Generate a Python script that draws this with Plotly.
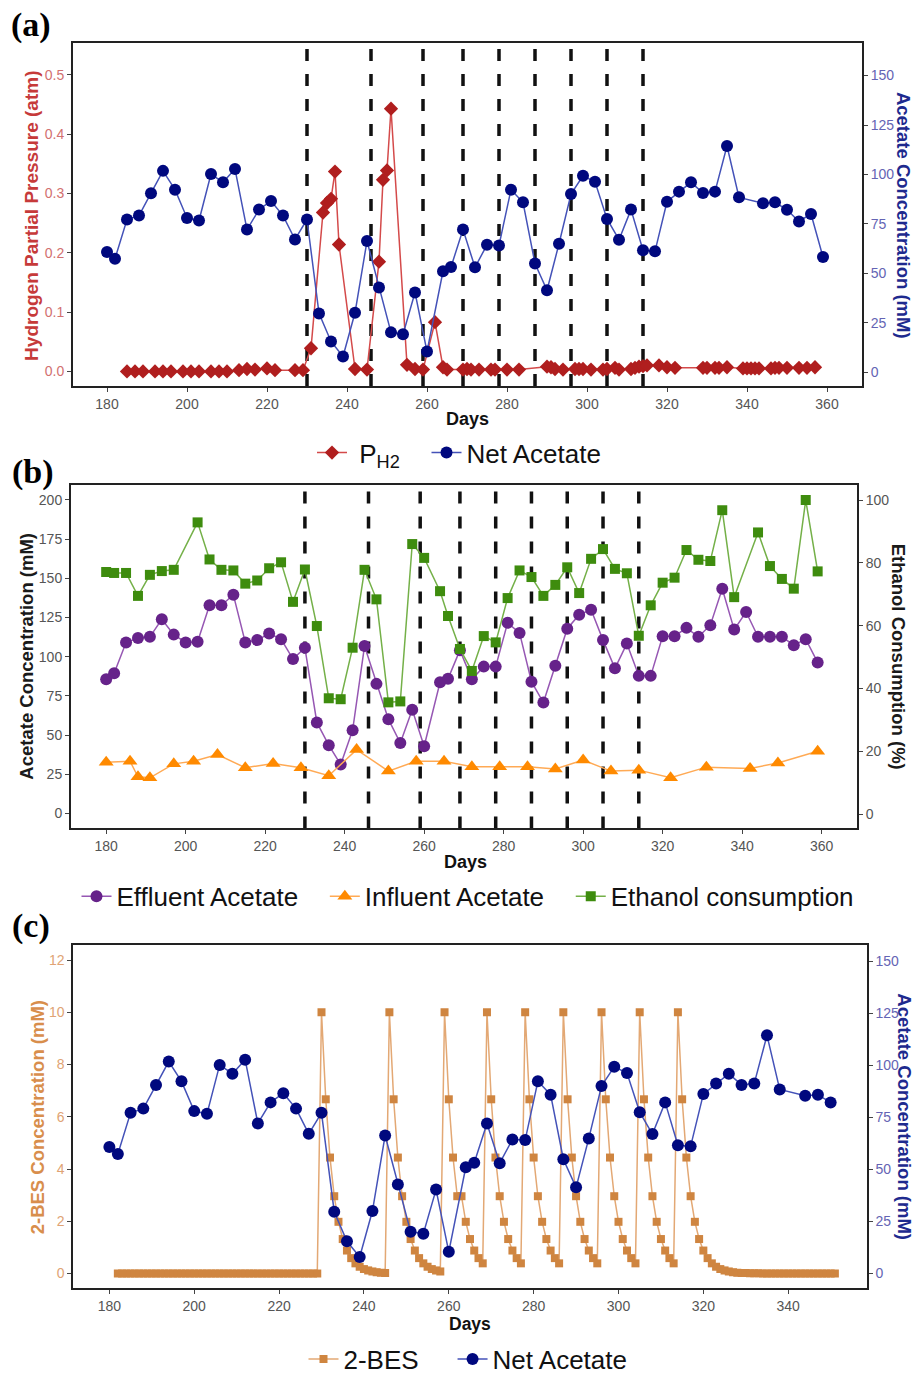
import plotly.graph_objects as go

W, H = 919, 1383

# ---------------- DATA ----------------
dose_days = [230, 246, 259, 269, 278, 287, 296, 305, 314]

ph2_days = [185, 187, 189, 192, 194, 196, 199, 201, 203, 206, 208, 210, 213, 215, 217, 220, 222, 227, 229,
            231, 234, 235, 236, 237, 238, 242, 245, 248, 249, 250, 251, 255, 257, 259, 262, 264, 265,
            269, 270, 271, 273, 276, 277, 280, 283, 290, 291, 292, 294, 297, 298, 299, 301, 304, 305,
            307, 308, 311, 312, 313, 314, 315, 318, 320, 322, 329, 330, 332, 333, 335, 339, 340, 341,
            342, 343, 346, 347, 348, 350, 353, 355, 357]
ph2_vals = [0.0, 0.0, 0.0, 0.0, 0.0, 0.0, 0.0, 0.0, 0.0, 0.0, 0.0, 0.0, 0.002, 0.004, 0.003, 0.005, 0.002, 0.002, 0.002,
            0.039, 0.268, 0.284, 0.291, 0.337, 0.214, 0.004, 0.003, 0.185, 0.323, 0.339, 0.443, 0.011, 0.004, 0.003, 0.083, 0.007, 0.003,
            0.003, 0.004, 0.003, 0.003, 0.003, 0.003, 0.003, 0.003, 0.008, 0.007, 0.004, 0.003, 0.004, 0.004, 0.004, 0.003, 0.003, 0.004,
            0.006, 0.003, 0.004, 0.006, 0.008, 0.009, 0.010, 0.010, 0.007, 0.006, 0.006, 0.006, 0.006, 0.006, 0.007, 0.005, 0.005, 0.005,
            0.005, 0.005, 0.005, 0.006, 0.006, 0.006, 0.006, 0.006, 0.007]

net_days = [180, 182, 185, 188, 191, 194, 197, 200, 203, 206, 209, 212, 215, 218, 221, 224, 227, 230, 233, 236,
            239, 242, 245, 248, 251, 254, 257, 260, 264, 266, 269, 272, 275, 278, 281, 284, 287, 290, 293, 296,
            299, 302, 305, 308, 311, 314, 317, 320, 323, 326, 329, 332, 335, 338, 344, 347, 350, 353, 356, 359]
net_vals = [60.8, 57.4, 77.2, 79.2, 90.5, 101.8, 92.3, 78.0, 76.7, 100.2, 96.0, 102.7, 72.1, 82.2, 86.6, 79.2, 67.1, 77.2, 29.7, 15.5,
            7.9, 30.0, 66.3, 42.8, 20.1, 19.1, 40.3, 10.4, 51.0, 53.2, 72.1, 53.0, 64.4, 64.1, 92.3, 85.9, 54.9, 41.4, 64.9, 90.1,
            99.3, 96.3, 77.5, 67.0, 82.2, 61.6, 61.1, 86.2, 91.3, 96.0, 90.6, 91.3, 114.4, 88.4, 85.4, 85.9, 82.1, 76.2, 80.0, 58.2]

eff_days = [180, 182, 185, 188, 191, 194, 197, 200, 203, 206, 209, 212, 215, 218, 221, 224, 227, 230, 233, 236,
            239, 242, 245, 248, 251, 254, 257, 260, 264, 266, 269, 272, 275, 278, 281, 284, 287, 290, 293, 296,
            299, 302, 305, 308, 311, 314, 317, 320, 323, 326, 329, 332, 335, 338, 341, 344, 347, 350, 353, 356, 359]
eff_vals = [85.6, 89.4, 109.1, 111.9, 112.7, 123.9, 114.1, 109.1, 109.5, 132.8, 132.8, 139.5, 109.1, 110.6, 114.8, 111.2, 98.5, 105.7, 58.1, 43.6,
            31.3, 53.1, 106.8, 82.7, 60.2, 45.0, 66.2, 42.9, 83.7, 85.9, 104.2, 85.6, 93.7, 93.7, 121.6, 115.2, 84.1, 70.8, 94.3, 117.9,
            126.8, 130.0, 110.6, 92.6, 108.4, 87.8, 87.8, 113.1, 113.1, 118.4, 112.7, 120.1, 143.3, 117.3, 128.5, 112.7, 112.7, 112.7, 107.4, 111.2, 96.4]

inf_days = [180, 186, 188, 191, 197, 202, 208, 215, 222, 229, 236, 243, 251, 258, 265, 272, 279, 286, 293, 300,
            307, 314, 322, 331, 342, 349, 359]
inf_vals = [32.8, 33.4, 23.5, 22.8, 31.7, 33.4, 37.7, 29.2, 32.0, 29.2, 24.1, 40.8, 27.1, 33.4, 33.4, 29.8, 29.8, 29.8, 28.5, 34.1,
            27.1, 27.7, 22.8, 29.6, 28.8, 32.3, 39.8]

eth_days = [180, 182, 185, 188, 191, 194, 197, 203, 206, 209, 212, 215, 218, 221, 224, 227, 230, 233, 236, 239,
            242, 245, 248, 251, 254, 257, 260, 264, 266, 269, 272, 275, 278, 281, 284, 287, 290, 293, 296, 299,
            302, 305, 308, 311, 314, 317, 320, 323, 326, 329, 332, 335, 338, 344, 347, 350, 353, 356, 359]
eth_vals = [77.1, 76.8, 76.8, 69.5, 76.2, 77.4, 77.8, 92.9, 81.1, 77.8, 77.6, 73.4, 74.4, 78.3, 80.2, 67.6, 77.9, 59.9, 36.9, 36.6,
            53.0, 77.8, 68.4, 35.6, 35.9, 86.0, 81.6, 71.0, 63.1, 52.6, 45.6, 56.7, 54.7, 68.8, 77.6, 75.5, 69.5, 73.0, 78.6, 70.4,
            81.3, 84.4, 78.1, 76.7, 56.8, 66.5, 73.7, 75.3, 84.1, 81.0, 80.6, 96.8, 69.1, 89.7, 79.0, 74.9, 71.8, 100.0, 77.3]

# 2-BES: one reading per day from day 182 to day 351
bes_days = list(range(182, 352))
bes_vals = ([0] * 48 +
            [10, 6.67, 4.44, 2.96, 1.98, 1.32, 0.88, 0.59, 0.39, 0.26, 0.17, 0.12, 0.08, 0.05, 0.03, 0.02] +
            [10, 6.67, 4.44, 2.96, 1.98, 1.32, 0.88, 0.59, 0.39, 0.26, 0.17, 0.12, 0.08] +
            [10, 6.67, 4.44, 2.96, 2.96, 1.98, 1.32, 0.88, 0.59, 0.39] +
            [10, 6.67, 4.44, 2.96, 1.98, 1.32, 0.88, 0.59, 0.39] +
            [10, 6.67, 4.44, 2.96, 1.98, 1.32, 0.88, 0.59, 0.39] +
            [10, 6.67, 4.44, 2.96, 1.98, 1.32, 0.88, 0.59, 0.39] +
            [10, 6.67, 4.44, 2.96, 1.98, 1.32, 0.88, 0.59, 0.39] +
            [10, 6.67, 4.44, 2.96, 1.98, 1.32, 0.88, 0.59, 0.39] +
            [10, 6.67, 4.44, 2.96, 1.98, 1.32, 0.88, 0.59, 0.39, 0.26, 0.17, 0.12, 0.08, 0.05, 0.03, 0.02,
             0.02, 0.01, 0.01, 0.01] + [0] * 18)

net_c_days = [d for d in net_days if d <= 350]
net_c_vals = [v for d, v in zip(net_days, net_vals) if d <= 350]

# ---------------- STYLE ----------------
FONT = "Liberation Sans, Arial, sans-serif"
RED_M, RED_L = "#B01E1E", "#D44A4A"
BLUE_M, BLUE_L = "#00087E", "#4452B8"
PUR_M, PUR_L = "#66228A", "#9657B3"
ORA_M, ORA_L = "#FF8A00", "#FFAA55"
GRN_M, GRN_L = "#3E8C0E", "#74B048"
TAN_M, TAN_L = "#CF8540", "#E3A874"
NB = "\u00a0"


def fx(p):
    return p / W


def fy(p):
    return 1 - p / H


fig = go.Figure()

# Panel (a)
fig.add_trace(go.Scatter(x=ph2_days, y=ph2_vals, mode="lines+markers", name=NB + "P<sub>H2</sub>" + NB * 3,
                         xaxis="x", yaxis="y", legend="legend",
                         line=dict(color=RED_L, width=1.5),
                         marker=dict(symbol="diamond", size=11, color=RED_M)))
fig.add_trace(go.Scatter(x=net_days, y=net_vals, mode="lines+markers", name="Net Acetate",
                         xaxis="x", yaxis="y2", legend="legend",
                         line=dict(color=BLUE_L, width=1.5),
                         marker=dict(symbol="circle", size=12, color=BLUE_M)))

# Panel (b)
fig.add_trace(go.Scatter(x=eff_days, y=eff_vals, mode="lines+markers", name="Effluent Acetate" + NB * 3,
                         xaxis="x2", yaxis="y3", legend="legend2",
                         line=dict(color=PUR_L, width=1.5),
                         marker=dict(symbol="circle", size=12, color=PUR_M)))
fig.add_trace(go.Scatter(x=inf_days, y=inf_vals, mode="lines+markers", name="Influent Acetate" + NB * 3,
                         xaxis="x2", yaxis="y3", legend="legend2",
                         line=dict(color=ORA_L, width=1.5),
                         marker=dict(symbol="triangle-up", size=13, color=ORA_M)))
fig.add_trace(go.Scatter(x=eth_days, y=eth_vals, mode="lines+markers", name="Ethanol consumption",
                         xaxis="x2", yaxis="y4", legend="legend2",
                         line=dict(color=GRN_L, width=1.5),
                         marker=dict(symbol="square", size=10, color=GRN_M)))

# Panel (c)
fig.add_trace(go.Scatter(x=bes_days, y=bes_vals, mode="lines+markers", name="2-BES" + NB * 4,
                         xaxis="x3", yaxis="y5", legend="legend3",
                         line=dict(color=TAN_L, width=1.5),
                         marker=dict(symbol="square", size=8, color=TAN_M)))
fig.add_trace(go.Scatter(x=net_c_days, y=net_c_vals, mode="lines+markers", name="Net Acetate",
                         xaxis="x3", yaxis="y6", legend="legend3",
                         line=dict(color=BLUE_L, width=1.5),
                         marker=dict(symbol="circle", size=12, color=BLUE_M)))

# dashed dosing lines (panels a and b)
for d in dose_days:
    for xr, yr in (("x", "y domain"), ("x2", "y3 domain")):
        fig.add_shape(type="line", xref=xr, yref=yr, x0=d, x1=d, y0=0, y1=1, layer="below",
                      line=dict(color="#111111", width=3.5, dash="12px,13px"))


def xax(domain, anchor, rng, tickvals):
    return dict(domain=domain, anchor=anchor, range=rng, tickvals=tickvals,
                showline=True, linecolor="#222222", linewidth=2, mirror=True,
                ticks="outside", ticklen=4, tickwidth=1, tickcolor="#444444",
                showgrid=False, zeroline=False,
                tickfont=dict(family=FONT, size=14, color="#555555"))


def yax(domain, anchor, rng, dtick, color, side="left", overlaying=None, fmt=None):
    d = dict(anchor=anchor, range=rng, dtick=dtick, tick0=0, side=side,
             showline=True, linecolor="#222222", linewidth=2,
             ticks="outside", ticklen=4, tickwidth=1, tickcolor="#444444",
             showgrid=False, zeroline=False,
             tickfont=dict(family=FONT, size=14, color=color))
    if overlaying:
        d["overlaying"] = overlaying
    else:
        d["domain"] = domain
        d["mirror"] = True
    if fmt:
        d["tickformat"] = fmt
    return d


xt = [180, 200, 220, 240, 260, 280, 300, 320, 340, 360]

legend_common = dict(orientation="h", xanchor="center", yanchor="middle",
                     font=dict(family=FONT, size=26, color="#111111"),
                     bgcolor="rgba(0,0,0,0)", itemwidth=30, tracegroupgap=0)

fig.update_layout(
    width=W, height=H,
    margin=dict(l=0, r=0, t=0, b=0),
    paper_bgcolor="white", plot_bgcolor="white",
    font=dict(family=FONT),
    xaxis=xax([fx(73), fx(862)], "y", [171.5, 368.75], xt),
    yaxis=yax([fy(388), fy(43)], "x", [-0.0247, 0.5542], 0.1, "#D27070", fmt=".1f"),
    yaxis2=yax(None, "x", [-7.05, 166.6], 25, "#6464B4", side="right", overlaying="y"),
    xaxis2=xax([fx(71), fx(857)], "y3", [171.15, 368.9], xt),
    yaxis3=yax([fy(832.7), fy(487.3)], "x2", [-9.5, 209.6], 25, "#555555"),
    yaxis4=yax(None, "x2", [-4.56, 104.86], 20, "#555555", side="right", overlaying="y3"),
    xaxis3=xax([fx(73.3), fx(866.7)], "y5", [171.5, 358.5], xt[:-1]),
    yaxis5=yax([fy(1295), fy(950)], "x3", [-0.571, 12.57], 2, "#E0A374"),
    yaxis6=yax(None, "x3", [-7.17, 157.7], 25, "#6464B4", side="right", overlaying="y5"),
    legend=dict(x=fx(459), y=fy(455), **legend_common),
    legend2=dict(x=fx(468), y=fy(901), **legend_common),
    legend3=dict(x=fx(468), y=fy(1366), **legend_common),
    showlegend=True,
)

ann = []


def add_text(text, x, y, size, color, angle=0, bold=True, family=FONT, xanchor="center"):
    t = "<b>%s</b>" % text if bold else text
    ann.append(dict(text=t, x=fx(x), y=fy(y), xref="paper", yref="paper", showarrow=False,
                    xanchor=xanchor, yanchor="middle", textangle=angle,
                    font=dict(family=family, size=size, color=color)))


SERIF = "Liberation Serif, Times New Roman, serif"
add_text("(a)", 9, 25, 34, "#000000", family=SERIF, xanchor="left")
add_text("(b)", 10, 474, 34, "#000000", family=SERIF, xanchor="left")
add_text("(c)", 10, 931, 34, "#000000", family=SERIF, xanchor="left")

add_text("Hydrogen Partial Pressure (atm)", 32, 217, 19, "#C63A3A", angle=-90)
add_text("Acetate Concentration (mM)", 903, 216, 18.5, "#1E2A8E", angle=90)
add_text("Days", 467, 421, 18, "#111111")

add_text("Acetate Concentration (mM)", 27, 660, 18.5, "#1A1A1A", angle=-90)
add_text("Ethanol Consumption (%)", 898, 660, 18.5, "#1A1A1A", angle=90)
add_text("Days", 465, 866, 18, "#111111")

add_text("2-BES Concentration (mM)", 37, 1123, 18.5, "#D88E4C", angle=-90)
add_text("Acetate Concentration (mM)", 905, 1122, 18.5, "#1E2A8E", angle=90)
add_text("Days", 470, 1331, 17.5, "#111111")

fig.update_layout(annotations=ann)

fig.write_html("out.html")
